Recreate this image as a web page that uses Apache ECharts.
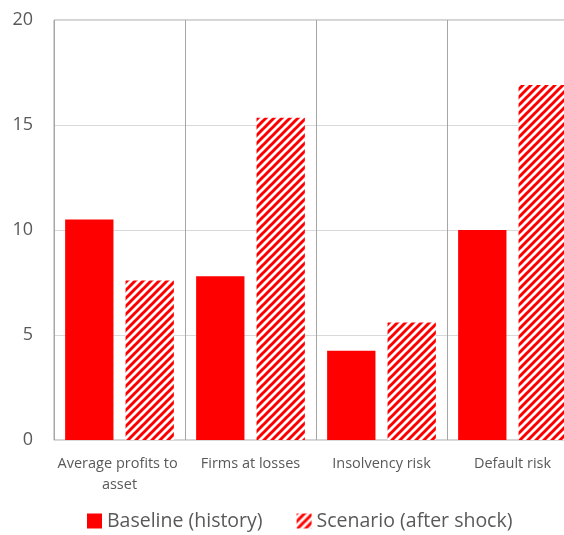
<!DOCTYPE html>
<html>
<head>
<meta charset="utf-8">
<script src="https://cdn.jsdelivr.net/npm/echarts@6/dist/echarts.min.js"></script>
<style>
  html, body { margin: 0; padding: 0; background: #fff; }
  #chart { width: 564px; height: 535px; }
</style>
</head>
<body>
<div id="chart"></div>
<script>
// Indicator categories and the two series compared for each
const categories = ['Average profits to asset', 'Firms at losses', 'Insolvency risk', 'Default risk'];
const baselineValues = [10.5, 7.8, 4.25, 10.0];
const scenarioValues = [7.6, 15.35, 5.6, 16.9];
const seriesNames = ['Baseline (history)', 'Scenario (after shock)'];
const yTicks = { min: 0, max: 20, interval: 5 };

const RED = '#ff0000';
const FONT = '"Open Sans", "Noto Sans", sans-serif';

// Diagonal red/white hatching for the scenario bars
function hatchPattern() {
  const size = 8;
  const c = document.createElement('canvas');
  c.width = size; c.height = size;
  const ctx = c.getContext('2d');
  ctx.fillStyle = '#ffffff';
  ctx.fillRect(0, 0, size, size);
  ctx.strokeStyle = RED;
  ctx.lineWidth = 3;
  ctx.lineCap = 'square';
  for (let k = -1; k <= 1; k++) {
    ctx.beginPath();
    ctx.moveTo(k * size - 1, size + 1);
    ctx.lineTo(k * size + size + 1, -1);
    ctx.stroke();
  }
  return { image: c, repeat: 'repeat' };
}

const chart = echarts.init(document.getElementById('chart'), null, { renderer: 'canvas' });

chart.setOption({
  animation: false,
  textStyle: { fontFamily: FONT },
  // plot area runs a little past the right edge of the canvas
  grid: {
    left: 54, top: 20, right: -14, bottom: 95,
    outerBoundsMode: 'none',
    show: true, borderColor: '#a6a6a6', borderWidth: 1,
    containLabel: false
  },
  legend: {
    bottom: -1,
    left: 82,
    itemWidth: 15, itemHeight: 15,
    itemGap: 34,
    textStyle: { fontFamily: FONT, fontSize: 19.5, color: '#595959' },
    data: [
      { name: seriesNames[0], icon: 'rect' },
      { name: seriesNames[1], icon: 'rect' }
    ]
  },
  xAxis: {
    type: 'category',
    data: categories,
    axisLine: { show: true, lineStyle: { color: '#d9d9d9', width: 1 } },
    axisTick: { show: false },
    splitLine: { show: true, interval: 0, lineStyle: { color: '#a6a6a6', width: 1 } },
    axisLabel: {
      interval: 0,
      margin: 13,
      width: 128,
      overflow: 'break',
      lineHeight: 21,
      fontSize: 14.5,
      color: '#595959',
      fontFamily: FONT
    }
  },
  yAxis: {
    type: 'value',
    min: yTicks.min, max: yTicks.max, interval: yTicks.interval,
    axisLine: { show: false },
    axisTick: { show: false },
    splitLine: { lineStyle: { color: '#d9d9d9', width: 1 } },
    axisLabel: { margin: 21, fontSize: 18, color: '#595959', fontFamily: FONT }
  },
  series: [
    {
      name: seriesNames[0],
      type: 'bar',
      data: baselineValues,
      barGap: '25%',
      barCategoryGap: '17%',
      itemStyle: { color: RED }
    },
    {
      name: seriesNames[1],
      type: 'bar',
      data: scenarioValues,
      barGap: '25%',
      barCategoryGap: '17%',
      itemStyle: { color: hatchPattern() }
    }
  ]
});
</script>
</body>
</html>
